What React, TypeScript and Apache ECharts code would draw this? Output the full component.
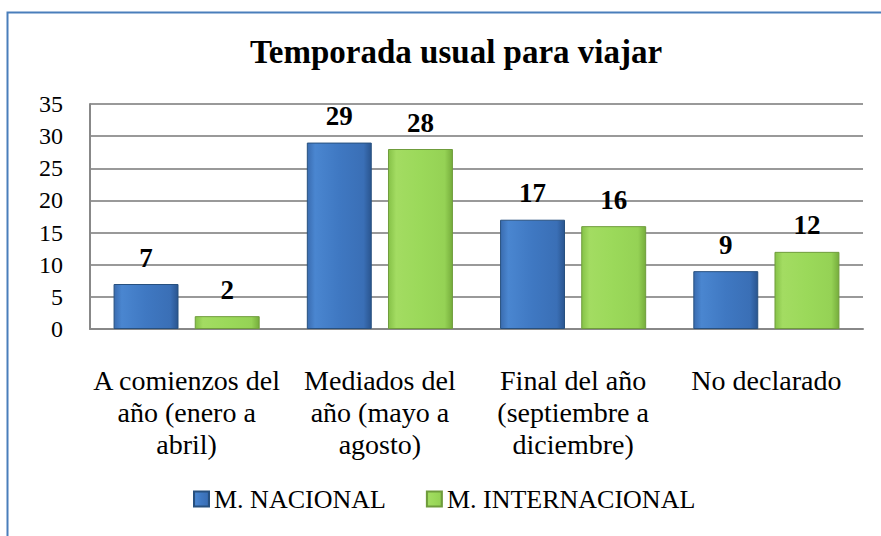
import React, { useEffect, useRef } from "react";
import * as echarts from "echarts";

const categories = [
  "A comienzos del\naño (enero a\nabril)",
  "Mediados del\naño (mayo a\nagosto)",
  "Final del año\n(septiembre a\ndiciembre)",
  "No declarado",
];
const nacional = [7, 29, 17, 9];
const internacional = [2, 28, 16, 12];
const seriesNames = ["M. NACIONAL", "M. INTERNACIONAL"];
const titleText = "Temporada usual para viajar";

const FONT = "Liberation Serif, Times New Roman, serif";

export default function App() {
  const ref = useRef<HTMLDivElement>(null);
  useEffect(() => {
    if (!ref.current) return;
    const chart = echarts.init(ref.current, undefined, { renderer: "svg" });
    const blue = new echarts.graphic.LinearGradient(0, 0, 1, 0, [
      { offset: 0, color: "#3a6cb0" },
      { offset: 0.12, color: "#4a86d0" },
      { offset: 0.5, color: "#3f78c2" },
      { offset: 0.88, color: "#3a6fb6" },
      { offset: 1, color: "#2a558f" },
    ]);
    const green = new echarts.graphic.LinearGradient(0, 0, 1, 0, [
      { offset: 0, color: "#86c248" },
      { offset: 0.12, color: "#a3dc62" },
      { offset: 0.5, color: "#9bd95a" },
      { offset: 0.88, color: "#95d255" },
      { offset: 1, color: "#76ad3c" },
    ]);
    const labelStyle = {
      show: true,
      position: "top" as const,
      distance: 13,
      fontFamily: FONT,
      fontWeight: "bold" as const,
      fontSize: 27,
      color: "#000",
    };
    chart.setOption({
      animation: false,
      backgroundColor: "#fff",
      textStyle: { fontFamily: FONT },
      title: {
        text: titleText,
        left: 451,
        textAlign: "center",
        top: 30,
        textStyle: { fontFamily: FONT, fontWeight: "bold", fontSize: 33, color: "#000" },
      },
      grid: { left: 90, right: 18, top: 104, bottom: 207 },
      legend: {
        top: 481,
        left: 188,
        itemWidth: 15,
        itemHeight: 15,
        itemGap: 40,
        icon: "rect",
        textStyle: { fontFamily: FONT, fontSize: 26, color: "#000" },
        data: seriesNames,
      },
      xAxis: {
        type: "category",
        data: categories,
        axisLine: { lineStyle: { color: "#888", width: 2 } },
        axisTick: { show: false },
        axisLabel: {
          interval: 0,
          margin: 35,
          fontFamily: FONT,
          fontSize: 28,
          lineHeight: 32,
          color: "#000",
          verticalAlign: "top",
        },
      },
      yAxis: {
        type: "value",
        min: 0,
        max: 35,
        interval: 5,
        axisLine: { show: true, lineStyle: { color: "#888", width: 2 } },
        axisTick: { show: false },
        splitLine: { lineStyle: { color: "#999", width: 2 } },
        axisLabel: { margin: 27, fontFamily: FONT, fontSize: 24, color: "#000" },
      },
      series: [
        {
          name: seriesNames[0],
          type: "bar",
          data: nacional,
          barWidth: "33.6%",
          barGap: "25%",
          itemStyle: { color: blue, borderColor: "#27507f", borderWidth: 1 },
          label: labelStyle,
        },
        {
          name: seriesNames[1],
          type: "bar",
          data: internacional,
          barWidth: "33.6%",
          itemStyle: { color: green, borderColor: "#6f9c3c", borderWidth: 1 },
          label: labelStyle,
        },
      ],
      graphic: [
        {
          type: "rect",
          shape: { x: 7.5, y: 12.5, width: 1000, height: 1000 },
          style: { fill: "none", stroke: "#4a7ebb", lineWidth: 2 },
          silent: true,
        },
      ],
    });
    return () => chart.dispose();
  }, []);
  return (
    <div
      ref={ref}
      style={{ position: "fixed", left: 0, top: 0, width: 881, height: 536 }}
    />
  );
}
